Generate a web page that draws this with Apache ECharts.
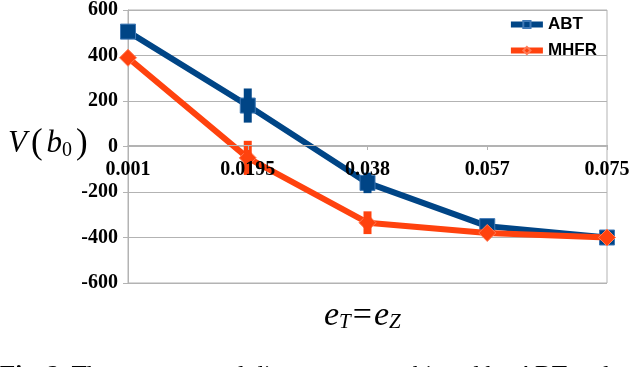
<!DOCTYPE html>
<html>
<head>
<meta charset="utf-8">
<script src="https://cdn.jsdelivr.net/npm/echarts@6/dist/echarts.min.js"></script>
<style>
  html, body { margin: 0; padding: 0; background: #fff; }
  #chart { width: 640px; height: 367px; }
</style>
</head>
<body>
<div id="chart"></div>
<script>
// data
const categories = ['0.001', '0.0195', '0.038', '0.057', '0.075'];
const abtValues = [505, 180, -160, -350, -400];
const mhfrValues = [390, -50, -335, -380, -400];
const abtErr = [0, 75, 45, 0, 0];
const mhfrErr = [0, 75, 50, 0, 0];
const yTicks = { min: -600, max: 600, interval: 200 };

const blue = '#004586';
const orange = '#ff420e';
const gridGray = '#b3b3b3';
const serif = '"Liberation Serif", "Times New Roman", serif';

function errData(vals, errs) {
  let out = [];
  vals.forEach((v, i) => {
    if (errs[i] > 0) out.push([i, v - errs[i], v + errs[i]]);
  });
  return out;
}

function errSeries(name, color, data, z) {
  return {
    type: 'custom',
    name: name + '-err',
    data: data,
    z: z,
    silent: true,
    renderItem: (params, api) => {
      const top = api.coord([api.value(0), api.value(2)]);
      const bot = api.coord([api.value(0), api.value(1)]);
      return {
        type: 'line',
        shape: { x1: top[0], y1: top[1], x2: bot[0], y2: bot[1] },
        style: { stroke: color, lineWidth: 8 }
      };
    }
  };
}

const chart = echarts.init(document.getElementById('chart'));
chart.setOption({
  animation: false,
  backgroundColor: '#fff',
  grid: {
    left: 128, right: 33, top: 7, bottom: 84,
    show: true, borderColor: gridGray, borderWidth: 1
  },
  legend: {
    right: 38, top: 11,
    orient: 'vertical',
    itemWidth: 32, itemHeight: 9, itemGap: 9,
    data: ['ABT', 'MHFR'],
    lineStyle: { width: 6 },
    textStyle: { fontFamily: '"Liberation Sans", Arial, sans-serif', fontWeight: 'bold', fontSize: 17, color: '#000' }
  },
  xAxis: {
    type: 'category',
    data: categories,
    boundaryGap: false,
    z: 10,
    // the axis sits on the zero line (grid bottom is -600)
    offset: -138,
    axisLine: { onZero: false, lineStyle: { color: gridGray, width: 1 } },
    axisTick: { show: true, length: 5, lineStyle: { color: gridGray } },
    axisLabel: {
      margin: 15, color: '#000', fontFamily: serif, fontWeight: 'bold', fontSize: 20,
      interval: 0
    },
    splitLine: { show: false }
  },
  yAxis: {
    type: 'value',
    min: yTicks.min, max: yTicks.max, interval: yTicks.interval,
    axisLine: { show: true, lineStyle: { color: gridGray, width: 1 } },
    axisTick: { show: true, length: 5, lineStyle: { color: gridGray } },
    axisLabel: { margin: 10, color: '#000', fontFamily: serif, fontWeight: 'bold', fontSize: 20 },
    splitLine: { lineStyle: { color: gridGray, width: 1 } }
  },
  series: [
    {
      name: 'ABT', type: 'line', data: abtValues,
      symbol: 'rect', symbolSize: 15,
      lineStyle: { color: blue, width: 6 },
      itemStyle: { color: blue, borderColor: '#3f78b5', borderWidth: 1 },
      z: 2
    },
    errSeries('ABT', blue, errData(abtValues, abtErr), 3),
    {
      name: 'MHFR', type: 'line', data: mhfrValues,
      symbol: 'diamond', symbolSize: 17,
      lineStyle: { color: orange, width: 6 },
      itemStyle: { color: orange, borderColor: '#ff7a55', borderWidth: 1 },
      z: 4
    },
    errSeries('MHFR', orange, errData(mhfrValues, mhfrErr), 5)
  ],
  graphic: [
    {
      type: 'text', left: 8, top: 126,
      style: {
        text: '{i|V}{p|(}{i|b}{s|0}{p|)}',
        rich: {
          i: { fontFamily: serif, fontStyle: 'italic', fontSize: 31, fill: '#000' },
          p: { fontFamily: serif, fontSize: 35, fill: '#000', padding: [0, 4, 0, 4] },
          s: { fontFamily: serif, fontSize: 20, fill: '#000', verticalAlign: 'bottom', padding: [10, 0, 0, 0] }
        }
      }
    },
    {
      type: 'text', left: 324, top: 299,
      style: {
        text: '{i|e}{s|T}{o|=}{i|e}{s|Z}',
        rich: {
          i: { fontFamily: serif, fontStyle: 'italic', fontSize: 34, fill: '#000' },
          s: { fontFamily: serif, fontStyle: 'italic', fontSize: 21, fill: '#000', verticalAlign: 'bottom', padding: [13, 2, 0, 0] },
          o: { fontFamily: serif, fontSize: 34, fill: '#000', padding: [0, 2, 0, 0] }
        }
      }
    },
    {
      type: 'text', left: 0, top: 364,
      style: {
        text: '{b|Fig. 2:} {r|The average total disagreement achieved by ABT and}',
        rich: {
          b: { fontFamily: serif, fontWeight: 'bold', fontSize: 25, fill: '#000' },
          r: { fontFamily: serif, fontSize: 25, fill: '#000' }
        }
      }
    }
  ]
});
</script>
</body>
</html>
